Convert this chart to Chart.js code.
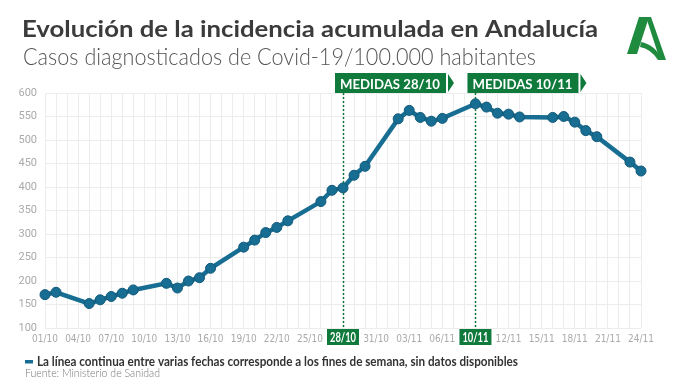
<!DOCTYPE html>
<html>
<head>
<meta charset="utf-8">
<script src="https://cdn.jsdelivr.net/npm/chart.js@4.4.0/dist/chart.umd.min.js"></script>
<style>
    html, body { margin: 0; padding: 0; background: #fff; }
    #wrap { position: relative; width: 680px; height: 381px; }
</style>
</head>
<body>
<div id="wrap"><canvas id="chart" width="680" height="381"></canvas></div>
<script>
// Daily categories, 01/10 to 24/11
const dates = [
    '01/10', '02/10', '03/10', '04/10', '05/10', '06/10', '07/10', '08/10', '09/10', '10/10',
    '11/10', '12/10', '13/10', '14/10', '15/10', '16/10', '17/10', '18/10', '19/10', '20/10',
    '21/10', '22/10', '23/10', '24/10', '25/10', '26/10', '27/10', '28/10', '29/10', '30/10',
    '31/10', '01/11', '02/11', '03/11', '04/11', '05/11', '06/11', '07/11', '08/11', '09/11',
    '10/11', '11/11', '12/11', '13/11', '14/11', '15/11', '16/11', '17/11', '18/11', '19/11',
    '20/11', '21/11', '22/11', '23/11', '24/11'
];

// Incidencia acumulada (null = fin de semana, sin datos)
const incidence = [
    171, 176, null, null, 152, 160, 167, 174, 181, null,
    null, 195, 185, 200, 207, 227, null, null, 272, 287,
    303, 314, 328, null, null, 369, 393, 398, 425, 444,
    null, null, 545, 563, 548, 540, 546, null, null, 577,
    570, 557, 555, 549, null, null, 548, 550, 538, 520,
    507, null, null, 453, 434
];

const yTicks = [100, 150, 200, 250, 300, 350, 400, 450, 500, 550, 600];

// Measures: category where the marker sits, flag text, highlighted tick text
const measureDates = ['28/10', '09/11'];
const measureFlags = ['MEDIDAS 28/10', 'MEDIDAS 10/11'];
const measureTicks = ['28/10', '10/11'];

const lineColor = '#176d92';
const green = '#0f7a3c';

function fitText(ctx, text, x, y, width, font, color) {
    ctx.save();
    ctx.font = font;
    ctx.fillStyle = color;
    ctx.textBaseline = 'alphabetic';
    ctx.textAlign = 'left';
    const w = ctx.measureText(text).width;
    ctx.translate(x, y);
    ctx.scale(width / w, 1);
    ctx.fillText(text, 0, 0);
    ctx.restore();
}

const decor = {
    id: 'decor',
    beforeDraw(chart) {
        const ctx = chart.ctx;
        ctx.save();
        ctx.fillStyle = '#fff';
        ctx.fillRect(0, 0, chart.width, chart.height);

        fitText(ctx, 'Evolución de la incidencia acumulada en Andalucía', 22, 37, 576,
            'bold 23px Lato, "Open Sans", sans-serif', '#3b3b3b');
        fitText(ctx, 'Casos diagnosticados de Covid-19/100.000 habitantes', 23, 65, 513,
            '300 23px Lato, "Open Sans", sans-serif', '#555');

        // logo
        ctx.fillStyle = '#1f8b3f';
        ctx.beginPath();
        ctx.moveTo(639, 17); ctx.lineTo(649, 17); ctx.lineTo(637, 54); ctx.lineTo(627, 54);
        ctx.closePath(); ctx.fill();
        ctx.beginPath();
        ctx.moveTo(646, 17); ctx.lineTo(651, 17); ctx.lineTo(666, 60); ctx.lineTo(660, 60);
        ctx.closePath(); ctx.fill();
        ctx.beginPath();
        ctx.moveTo(641, 42); ctx.quadraticCurveTo(654, 44, 663, 60); ctx.lineTo(658, 60);
        ctx.quadraticCurveTo(651, 49, 640, 47);
        ctx.closePath(); ctx.fill();

        // footer
        ctx.fillStyle = lineColor;
        ctx.fillRect(25, 360, 8, 3.5);
        fitText(ctx, 'La línea continua entre varias fechas corresponde a los fines de semana, sin datos disponibles',
            37, 366, 481, 'bold 13px Lato, "Open Sans", sans-serif', '#333');
        fitText(ctx, 'Fuente: Ministerio de Sanidad', 25, 377, 135,
            '300 12px Lato, "Open Sans", sans-serif', '#777');
        ctx.restore();
    },
    beforeDatasetsDraw(chart) {
        const ctx = chart.ctx;
        const x = chart.scales.x;
        ctx.save();
        ctx.strokeStyle = green;
        ctx.lineWidth = 1.5;
        ctx.setLineDash([2, 2]);
        measureDates.forEach(d => {
            const px = Math.round(x.getPixelForValue(dates.indexOf(d))) + 0.5;
            ctx.beginPath();
            ctx.moveTo(px, 93);
            ctx.lineTo(px, 330);
            ctx.stroke();
        });
        ctx.restore();
    },
    afterDraw(chart) {
        const ctx = chart.ctx;
        const x = chart.scales.x;
        ctx.save();
        measureDates.forEach((d, i) => {
            const px = x.getPixelForValue(dates.indexOf(d));
            // flag
            const left = px - 8;
            ctx.fillStyle = green;
            ctx.fillRect(left, 73, 111, 20);
            ctx.beginPath();
            ctx.moveTo(left + 113, 74);
            ctx.lineTo(left + 119, 83);
            ctx.lineTo(left + 113, 92);
            ctx.closePath();
            ctx.fill();
            fitText(ctx, measureFlags[i], left + 5, 88.5, 100, 'bold 14px Lato, "Open Sans", sans-serif', '#fff');
            // highlighted tick
            ctx.fillStyle = green;
            ctx.fillRect(px - 16, 329, 32, 16);
            fitText(ctx, measureTicks[i], px - 13, 342, 26, 'bold 13px Lato, "Open Sans", sans-serif', '#fff');
        });
        ctx.restore();
    }
};

new Chart(document.getElementById('chart'), {
    type: 'line',
    data: {
        labels: dates,
        datasets: [{
            data: incidence,
            borderColor: lineColor,
            backgroundColor: lineColor,
            borderWidth: 4.5,
            pointRadius: 5,
            pointBackgroundColor: lineColor,
            pointBorderColor: '#125a7a',
            pointBorderWidth: 1,
            spanGaps: true,
            tension: 0
        }]
    },
    options: {
        responsive: false,
        animation: false,
        layout: { padding: { left: 0, right: 39, top: 93, bottom: 33 } },
        plugins: { legend: { display: false }, tooltip: { enabled: false } },
        scales: {
            x: {
                offset: false,
                afterFit: s => { s.height = 20; },
                grid: { color: '#ececec', drawTicks: false },
                border: { display: false },
                ticks: {
                    autoSkip: false,
                    maxRotation: 0,
                    padding: 5,
                    color: '#aaa',
                    font: { family: '"Liberation Sans Narrow", "DejaVu Sans Condensed", Roboto, sans-serif', size: 10 },
                    callback: (v, i) => (i % 3 === 0 && !measureDates.includes(dates[i])) ? dates[i] : ''
                }
            },
            y: {
                min: yTicks[0],
                max: yTicks[yTicks.length - 1],
                afterFit: s => { s.width = 45; },
                afterBuildTicks: s => { s.ticks = yTicks.map(v => ({ value: v })); },
                grid: { color: '#ececec', drawTicks: false },
                border: { display: false },
                ticks: {
                    padding: 8,
                    color: '#aaa',
                    font: { family: 'Roboto, sans-serif', size: 11 }
                }
            }
        }
    },
    plugins: [decor]
});
</script>
</body>
</html>
